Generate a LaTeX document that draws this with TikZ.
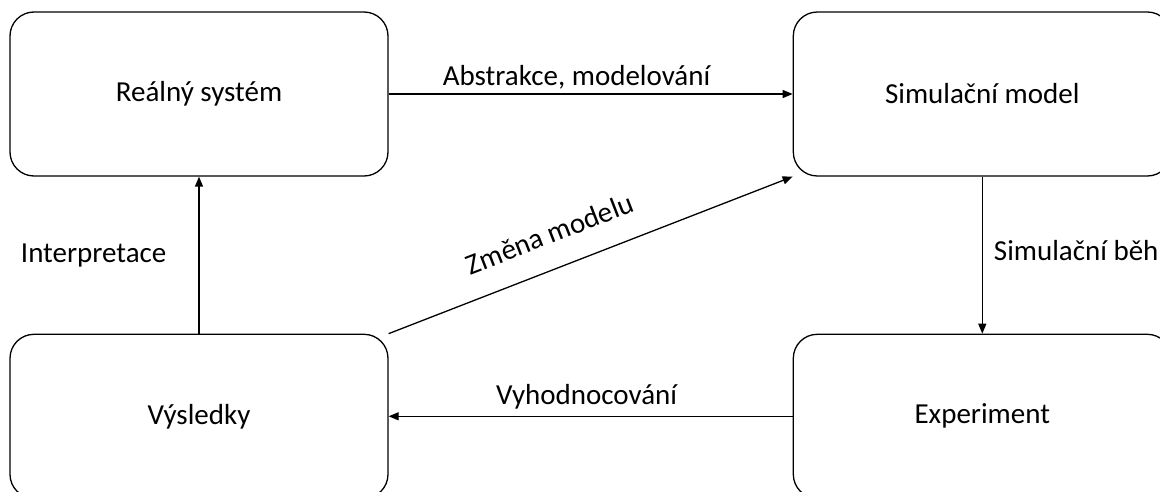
\documentclass[tikz,border=0pt]{standalone}
\usepackage{fontspec}
\setmainfont{Carlito}
\usetikzlibrary{positioning,arrows.meta}

\begin{document}
\begin{tikzpicture}[x=1pt,y=-1pt,line width=1.3pt,
    >={Triangle[length=10pt,width=8pt]},
    box/.style={draw,rounded corners=24pt,minimum width=378pt,minimum height=164pt,font=\fontsize{29}{35}\selectfont},
    lbl/.style={font=\fontsize{29}{35}\selectfont,inner sep=0pt}]
    \clip (0,0) rectangle (1160,492);
    \node[box] (real) at (199,94) {Reálný systém};
    \node[box,right=404pt of real] (sim) {Simulační model};
    \node[box,below=157pt of sim] (exp) {Experiment};
    \node[box,below=157pt of real] (res) {Výsledky};

    \path[->]
    (real) edge node[lbl,pos=.465,anchor=base,yshift=8pt] {Abstrakce, modelování} (sim)
    (sim) edge node[lbl,right=11pt,yshift=5pt] {Simulační běh} (exp)
    (exp) edge node[lbl,pos=.51,anchor=base,yshift=12pt] {Vyhodnocování} (res)
    (res) edge node[lbl,left=32pt] {Interpretace} (real)
    (res.north east) edge node[lbl,pos=.43,sloped,above=24pt] {Změna modelu} (sim.south west);
\end{tikzpicture}
\end{document}
